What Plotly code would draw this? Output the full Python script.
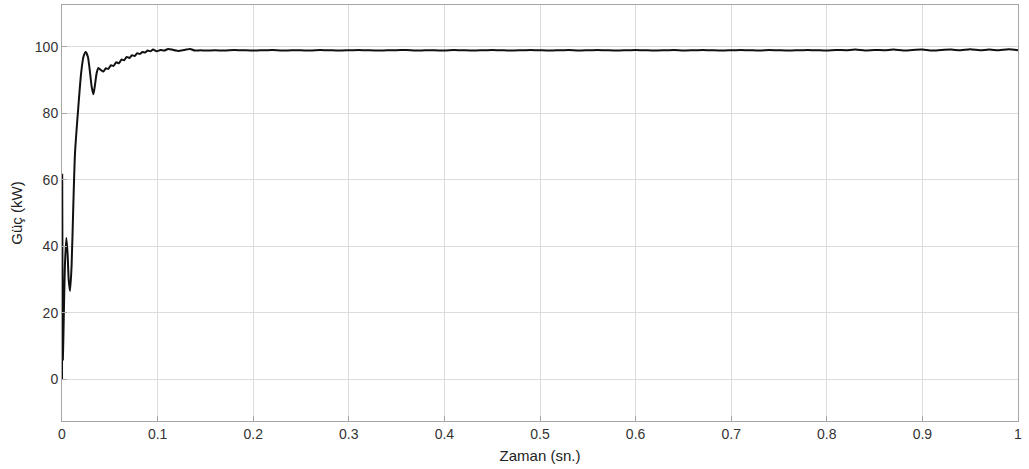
import plotly.graph_objects as go

# Time (s) and power (kW)
t = [0.0, 0.0002, 0.0005, 0.0009, 0.0018, 0.0030, 0.0045, 0.0058, 0.0070, 0.0084,
     0.0100, 0.0118, 0.0136, 0.0171, 0.0200, 0.0225, 0.0248, 0.0270, 0.0290, 0.0310,
     0.0328, 0.0345, 0.0362, 0.0380, 0.0405, 0.0432, 0.0458, 0.0485, 0.0512, 0.0540,
     0.0567, 0.0595, 0.0622, 0.0650, 0.0677, 0.0705, 0.0732, 0.0760, 0.0787, 0.0815,
     0.0842, 0.0870, 0.0897, 0.0925, 0.0952, 0.0990, 0.1030, 0.1070, 0.1110, 0.1150,
     0.1190, 0.1220, 0.1260, 0.1300, 0.1340, 0.1390, 0.1450, 0.1500,
     0.16, 0.17, 0.18, 0.19, 0.20, 0.21, 0.22, 0.23, 0.24, 0.25,
     0.26, 0.27, 0.28, 0.29, 0.30, 0.31, 0.32, 0.33, 0.34, 0.35,
     0.36, 0.37, 0.38, 0.39, 0.40, 0.41, 0.42, 0.43, 0.44, 0.45,
     0.46, 0.47, 0.48, 0.49, 0.50, 0.51, 0.52, 0.53, 0.54, 0.55,
     0.56, 0.57, 0.58, 0.59, 0.60, 0.61, 0.62, 0.63, 0.64, 0.65,
     0.66, 0.67, 0.68, 0.69, 0.70, 0.71, 0.72, 0.73, 0.74, 0.75,
     0.76, 0.77, 0.78, 0.79, 0.80, 0.81, 0.82, 0.83, 0.84, 0.85,
     0.86, 0.87, 0.88, 0.89, 0.90, 0.91, 0.92, 0.93, 0.94, 0.95,
     0.96, 0.97, 0.98, 0.99, 1.00]
p = [0.0, 61.5, 30.0, 6.0, 18.0, 34.0, 42.5, 38.0, 30.0, 26.6,
     34.0, 52.0, 68.0, 82.0, 92.0, 97.0, 98.4, 97.0, 93.0, 88.0,
     85.7, 88.5, 92.0, 93.6, 93.0, 92.5, 93.5, 93.3, 94.4, 94.2,
     95.3, 95.0, 96.1, 95.9, 96.9, 96.6, 97.4, 97.2, 98.0, 97.8,
     98.4, 98.2, 98.8, 98.6, 99.1, 98.6, 99.0, 98.8, 99.3, 99.1,
     98.8, 98.7, 98.9, 99.1, 99.3, 98.8, 98.9, 98.8,
     98.9, 98.8, 99.0, 98.9, 98.8, 98.9, 99.0, 98.8, 98.9, 98.9,
     98.8, 99.0, 98.9, 98.8, 98.9, 99.0, 98.9, 98.8, 98.9, 98.9,
     99.0, 98.8, 98.9, 98.9, 98.8, 99.0, 98.9, 98.8, 98.9, 99.0,
     98.9, 98.8, 98.9, 99.0, 98.9, 98.8, 98.9, 99.0, 98.8, 98.9,
     99.0, 98.9, 98.8, 98.9, 99.0, 98.9, 98.8, 98.9, 99.0, 98.8,
     98.9, 99.0, 98.9, 98.8, 98.9, 99.0, 98.9, 98.8, 99.0, 98.9,
     98.8, 98.9, 99.0, 98.9, 98.8, 99.0, 98.9, 99.1, 98.8, 99.0,
     98.9, 99.1, 98.8, 99.0, 99.1, 98.8, 99.0, 99.1, 98.9, 99.2,
     98.9, 99.1, 98.9, 99.2, 98.9]

x_ticks = [0, 0.1, 0.2, 0.3, 0.4, 0.5, 0.6, 0.7, 0.8, 0.9, 1]
x_labels = ["0", "0.1", "0.2", "0.3", "0.4", "0.5", "0.6", "0.7", "0.8", "0.9", "1"]
y_ticks = [0, 20, 40, 60, 80, 100]

FONT = "Liberation Sans, Arial"

fig = go.Figure()
fig.add_trace(go.Scatter(x=t, y=p, mode="lines",
                         line=dict(color="#111111", width=2, shape="spline", smoothing=0.6),
                         showlegend=False, hoverinfo="skip"))

axis_common = dict(showgrid=True, gridcolor="#dcdcdc", gridwidth=1,
                   showline=True, linecolor="#a6a6a6", linewidth=1, mirror=True,
                   ticks="inside", ticklen=5, tickcolor="#a6a6a6",
                   zeroline=False, automargin=False,
                   tickfont=dict(family=FONT, size=14, color="#333333"))

fig.update_xaxes(range=[-0.00001, 1.00001], tickvals=x_ticks, ticktext=x_labels,
                 title=dict(text="Zaman (sn.)", standoff=9,
                            font=dict(family=FONT, size=15, color="#222222")),
                 **axis_common)
fig.update_yaxes(range=[-12.5, 112.5], tickvals=y_ticks,
                 title=dict(text="Güç (kW)", standoff=8,
                            font=dict(family=FONT, size=15, color="#222222")),
                 **axis_common)

fig.update_layout(width=1029, height=469,
                  margin=dict(l=62, r=11, t=5, b=48),
                  plot_bgcolor="white", paper_bgcolor="white")

fig.write_html("out.html", config={"displayModeBar": False},
               post_script="document.body.style.margin='0';document.body.style.overflow='hidden';")
